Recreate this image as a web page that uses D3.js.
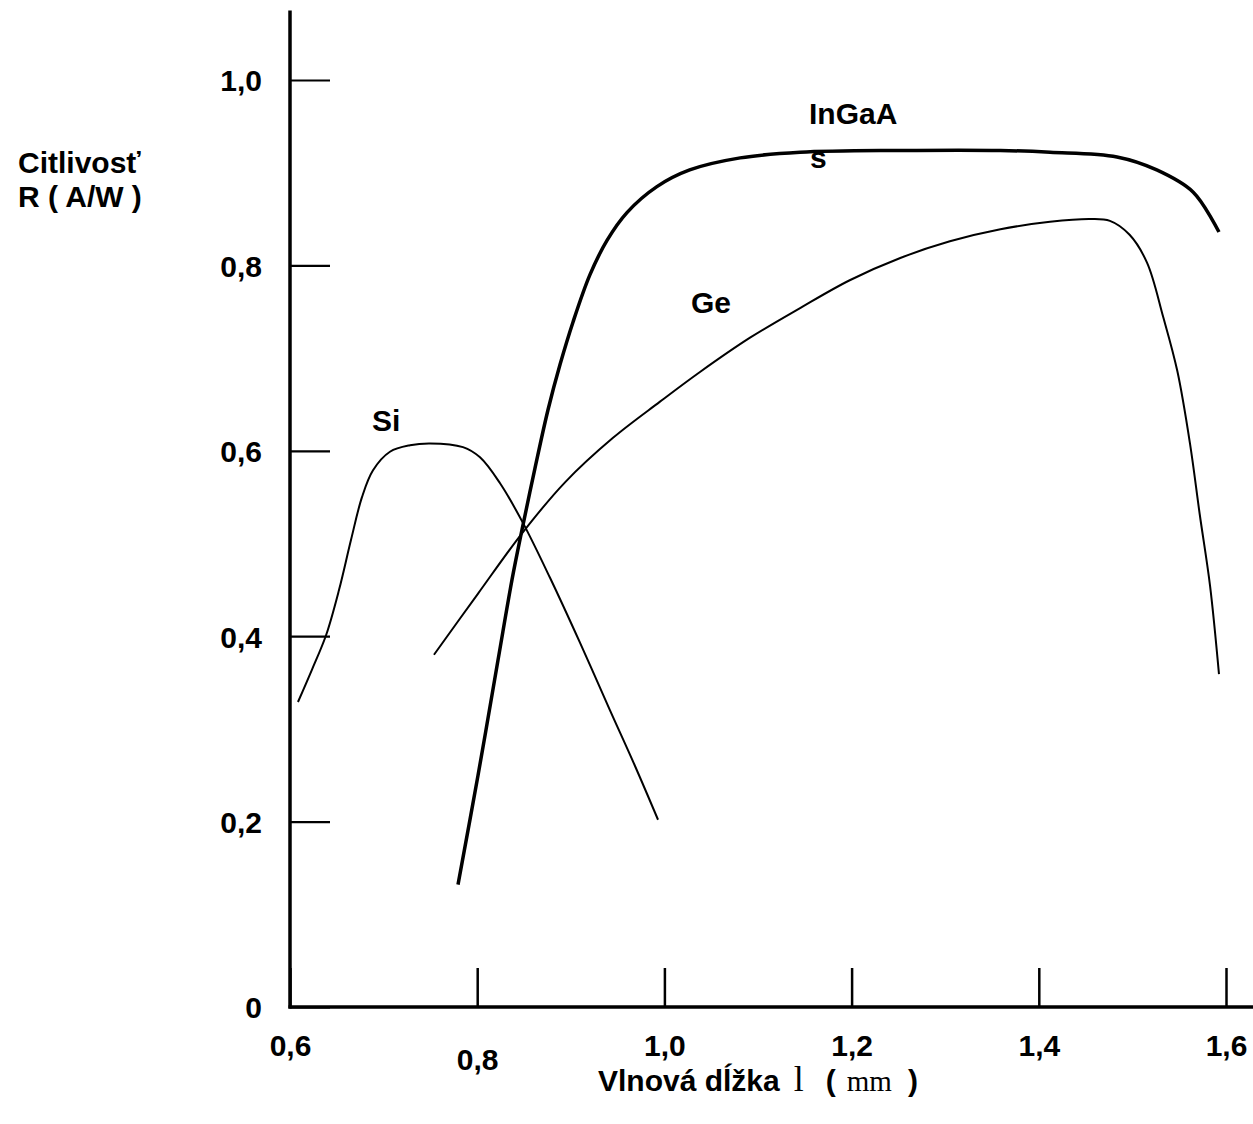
<!DOCTYPE html>
<html>
<head>
<meta charset="utf-8">
<script src="https://cdn.jsdelivr.net/npm/d3@7"></script>
<style>
  body { margin: 0; background: #fff; }
  svg { display: block; }
  text { font-family: "Liberation Sans", Arial, sans-serif; font-weight: bold; fill: #000; }
</style>
</head>
<body>
<svg id="chart" width="1253" height="1124"></svg>
<script>
// values: wavelength (um) and responsivity (A/W)
const inGaAsX = [0.7795, 0.8009, 0.8222, 0.8372, 0.8479, 0.8617, 0.8756, 0.8885, 0.9024, 0.9205, 0.9387, 0.960, 0.992, 1.027, 1.081, 1.145, 1.252, 1.359, 1.412, 1.4835, 1.526, 1.565, 1.5925];
const inGaAsY = [0.132, 0.250, 0.374, 0.461, 0.515, 0.581, 0.644, 0.693, 0.739, 0.790, 0.827, 0.857, 0.885, 0.903, 0.916, 0.922, 0.924, 0.924, 0.922, 0.917, 0.903, 0.879, 0.836];

const geX = [0.7538, 0.8009, 0.8479, 0.8938, 0.9451, 0.9953, 1.038, 1.0915, 1.145, 1.198, 1.252, 1.305, 1.359, 1.412, 1.455, 1.476, 1.497, 1.5156, 1.533, 1.548, 1.5615, 1.572, 1.583, 1.5925];
const geY = [0.380, 0.446, 0.511, 0.566, 0.614, 0.653, 0.685, 0.722, 0.754, 0.784, 0.808, 0.826, 0.839, 0.847, 0.850, 0.848, 0.833, 0.803, 0.744, 0.686, 0.608, 0.531, 0.454, 0.359];

const siX = [0.6085, 0.6235, 0.6385, 0.6524, 0.6652, 0.6769, 0.6887, 0.7068, 0.7282, 0.7496, 0.7848, 0.803, 0.8244, 0.849, 0.8778, 0.9098, 0.9419, 0.9686, 0.9932];
const siY = [0.329, 0.364, 0.401, 0.450, 0.504, 0.550, 0.579, 0.599, 0.606, 0.608, 0.604, 0.593, 0.565, 0.522, 0.463, 0.393, 0.320, 0.260, 0.202];

const xTicks = [0.6, 0.8, 1.0, 1.2, 1.4, 1.6];
const yTicks = [0, 0.2, 0.4, 0.6, 0.8, 1.0];
const xTickLabels = ["0,6", "0,8", "1,0", "1,2", "1,4", "1,6"];
const yTickLabels = ["0", "0,2", "0,4", "0,6", "0,8", "1,0"];

const svg = d3.select("#chart");

const x = d3.scaleLinear().domain([0.6, 1.6]).range([290, 1226]);
const y = d3.scaleLinear().domain([0, 1]).range([1007, 80]);

// y axis
const gy = svg.append("g").attr("transform", `translate(${x(0.6)},0)`)
  .call(d3.axisLeft(y).tickValues(yTicks).tickSize(-40).tickPadding(28)
    .tickFormat((d, i) => yTickLabels[i]));
gy.select(".domain").remove();
gy.selectAll(".tick line").attr("stroke", "#000").attr("stroke-width", 2.2);
gy.selectAll(".tick text").attr("font-size", 30).attr("dy", "0.36em");

// x axis
const gx = svg.append("g").attr("transform", `translate(0,${y(0)})`)
  .call(d3.axisBottom(x).tickValues(xTicks).tickSize(-39).tickPadding(28)
    .tickFormat((d, i) => xTickLabels[i]));
gx.select(".domain").remove();
gx.selectAll(".tick line").attr("stroke", "#000").attr("stroke-width", 2.5);
gx.selectAll(".tick text").attr("font-size", 30)
  .attr("dy", (d) => d === 0.8 ? "1.15em" : "0.71em");

// main axis lines
svg.append("line")
  .attr("x1", x(0.6)).attr("x2", x(0.6))
  .attr("y1", y(1.075)).attr("y2", y(0) + 1.5)
  .attr("stroke", "#000").attr("stroke-width", 3.5);
svg.append("line")
  .attr("x1", x(0.6) - 1.5).attr("x2", x(1.629))
  .attr("y1", y(0)).attr("y2", y(0))
  .attr("stroke", "#000").attr("stroke-width", 3.5);

const line = d3.line().x(d => x(d[0])).y(d => y(d[1])).curve(d3.curveCatmullRom.alpha(0.5));

svg.append("path").datum(d3.zip(siX, siY))
  .attr("d", line).attr("fill", "none").attr("stroke", "#000").attr("stroke-width", 2);
svg.append("path").datum(d3.zip(geX, geY))
  .attr("d", line).attr("fill", "none").attr("stroke", "#000").attr("stroke-width", 2);
svg.append("path").datum(d3.zip(inGaAsX, inGaAsY))
  .attr("d", line).attr("fill", "none").attr("stroke", "#000").attr("stroke-width", 3.5);

// curve labels
svg.append("text").attr("x", 372).attr("y", 431).attr("font-size", 30).text("Si");
svg.append("text").attr("x", 691).attr("y", 313).attr("font-size", 30).text("Ge");
svg.append("text").attr("x", 809).attr("y", 124).attr("font-size", 30).text("InGaA");
svg.append("text").attr("x", 810).attr("y", 168).attr("font-size", 30).text("s");

// axis titles
svg.append("text").attr("x", 18).attr("y", 173).attr("font-size", 30).text("Citlivosť");
svg.append("text").attr("x", 18).attr("y", 207).attr("font-size", 30).text("R ( A/W )");

const serif = "Liberation Serif, serif";
const xt = svg.append("text").attr("x", 598).attr("y", 1091).attr("font-size", 30);
xt.append("tspan").text("Vlnová dĺžka");
xt.append("tspan").attr("dx", 14).attr("font-family", serif).attr("font-weight", "normal").attr("font-size", 36).text("l");
xt.append("tspan").attr("dx", 22).text("(");
xt.append("tspan").attr("dx", 11).attr("font-family", serif).attr("font-weight", "normal").attr("font-size", 29).text("mm");
xt.append("tspan").attr("dx", 16).text(")");
</script>
</body>
</html>
